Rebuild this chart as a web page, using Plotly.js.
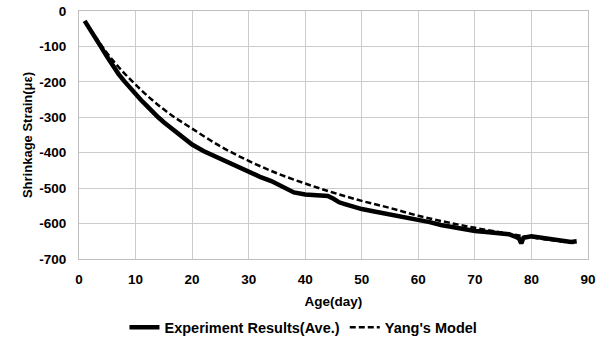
<!DOCTYPE html>
<html>
<head>
<meta charset="utf-8">
<script src="https://cdn.plot.ly/plotly-3.0.1.min.js"></script>
<style>html,body{margin:0;padding:0;background:#fff;}#chart{width:605px;height:345px;}</style>
</head>
<body>
<div id="chart"></div>
<script>
var expDays = [1,2,3,4,5,6,7,8,9,10,11,12,13,14,15,16,17,18,19,20,22,24,26,28,30,32,34,36,37,38,40,42,44,45,46,47,48,50,52,54,56,58,60,62,64,66,68,70,72,74,76,77,77.8,78.2,78.6,80,82,84,86,87,88];
var expStrain = [-28,-52,-78,-104,-130,-156,-178,-198,-217,-234,-252,-268,-285,-300,-314,-327,-340,-355,-366,-377,-395,-410,-425,-440,-456,-468,-480,-495,-505,-512,-518,-520,-522,-530,-540,-545,-550,-559,-565,-571,-576,-582,-589,-596,-604,-610,-616,-621,-624,-627,-630,-636,-642,-656,-640,-636,-641,-646,-650,-652,-650];
var modelDays = [1,3,5,7,10,13,16,20,25,30,35,40,45,50,55,60,65,70,75,80,85,88];
var modelStrain = [-30,-75,-120,-158,-208,-252,-290,-332,-382,-423,-458,-487,-513,-536,-556,-578,-596,-612,-626,-639,-650,-656];
var xTicks = [0,10,20,30,40,50,60,70,80,90];
var yTicks = [0,-100,-200,-300,-400,-500,-600,-700];

var fontFam = "'Liberation Sans', Arial, sans-serif";
var traces = [
  {x: expDays, y: expStrain, type: 'scatter', mode: 'lines', name: 'Experiment Results(Ave.)',
   line: {color: '#000', width: 4.5}},
  {x: modelDays, y: modelStrain, type: 'scatter', mode: 'lines', name: "Yang's Model",
   line: {color: '#000', width: 2.5, dash: '6px,3px', shape: 'spline'}}
];
var layout = {
  width: 605, height: 345,
  margin: {l: 79, r: 17, t: 11, b: 86, autoexpand: false},
  paper_bgcolor: '#fff', plot_bgcolor: '#fff',
  font: {family: fontFam, size: 13, color: '#000', weight: 700},
  showlegend: true,
  legend: {orientation: 'h', x: 0.441, xanchor: 'center', y: -0.276, yanchor: 'middle',
    font: {family: fontFam, size: 14.5, color: '#000', weight: 700}, itemwidth: 30, tracegroupgap: 0},
  xaxis: {range: [0, 90], tickvals: xTicks, ticktext: xTicks.map(String), automargin: false,
    showgrid: true, gridcolor: '#cccccc', gridwidth: 1, zeroline: false,
    showline: true, linecolor: '#bfbfbf', linewidth: 1, mirror: true, ticks: '',
    ticklabelstandoff: 8,
    tickfont: {family: fontFam, size: 13.5, color: '#000', weight: 700},
    title: {text: 'Age(day)', font: {family: fontFam, size: 13.5, color: '#000', weight: 700}, standoff: 10}},
  yaxis: {range: [-700, 0], tickvals: yTicks, ticktext: yTicks.map(String), automargin: false,
    showgrid: true, gridcolor: '#cccccc', gridwidth: 1, zeroline: false,
    showline: true, linecolor: '#bfbfbf', linewidth: 1, mirror: true, ticks: '',
    ticklabelstandoff: 9,
    tickfont: {family: fontFam, size: 13.5, color: '#000', weight: 700},
    title: {text: 'Shrinkage Strain(με)', font: {family: fontFam, size: 13, color: '#000', weight: 700}, standoff: 3}}
};
Plotly.newPlot('chart', traces, layout, {displayModeBar: false, staticPlot: true});
</script>
</body>
</html>
